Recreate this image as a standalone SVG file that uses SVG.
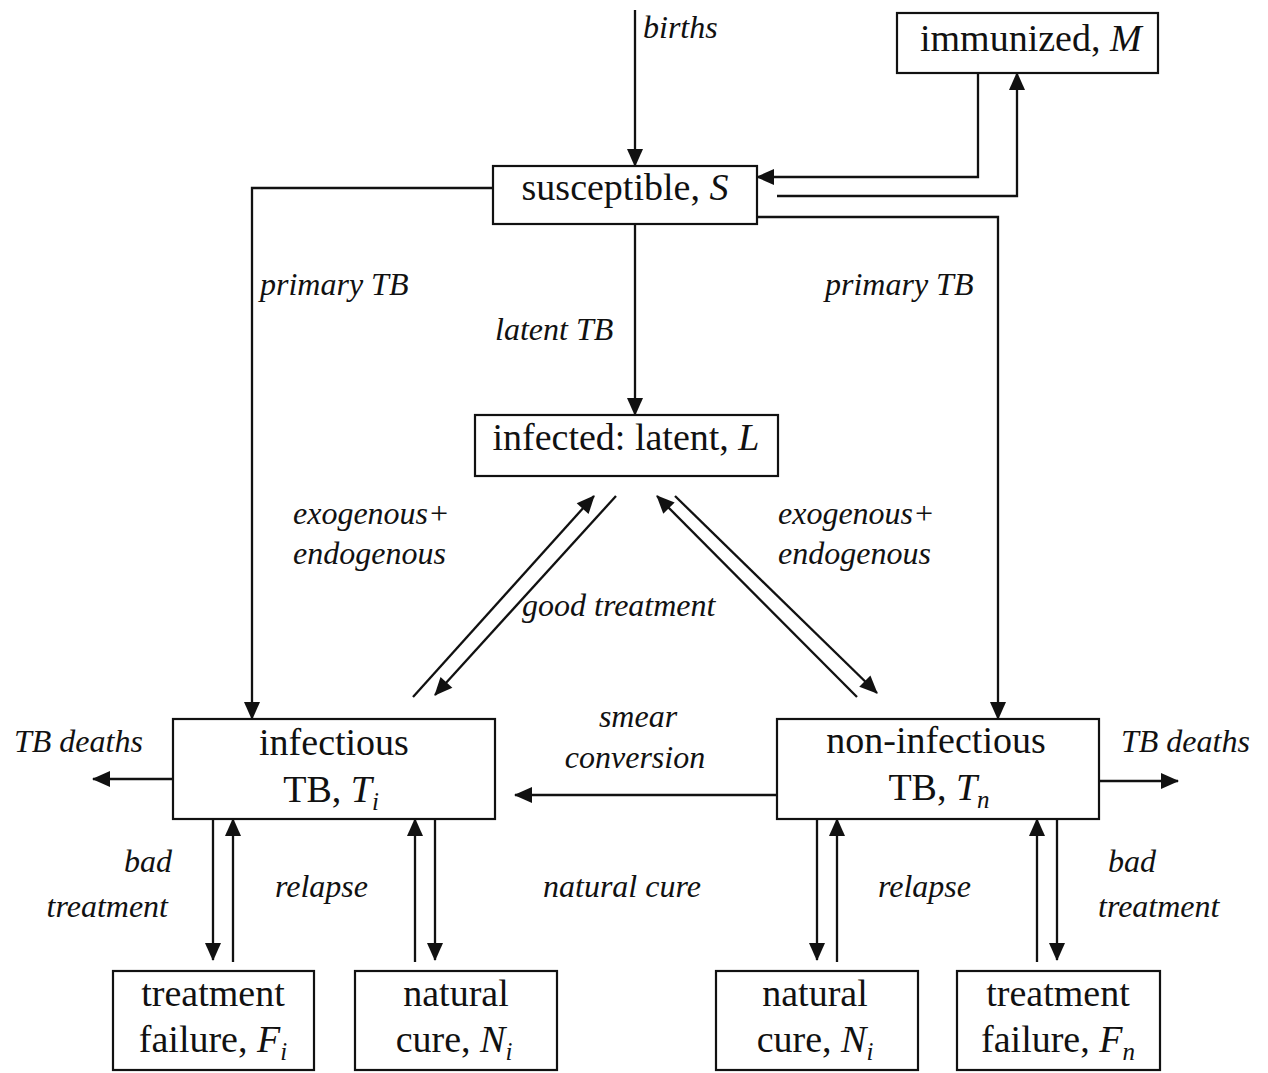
<svg xmlns="http://www.w3.org/2000/svg" width="1268" height="1073" viewBox="0 0 1268 1073">
<style>
.box{fill:#fff;stroke:#111;stroke-width:2.2}
.bt{font-family:"Liberation Serif","Times New Roman",serif;font-size:38px;fill:#111}
.lb{font-family:"Liberation Serif","Times New Roman",serif;font-size:32px;font-style:italic;fill:#111}
.it{font-style:italic}
.sub{font-size:25px;font-style:italic}
.c{fill:none;stroke:#111;stroke-width:2.3}
.a{marker-end:url(#ah)}
</style>
<defs>
<marker id="ah" markerUnits="userSpaceOnUse" markerWidth="18" markerHeight="16" refX="17" refY="8" orient="auto" overflow="visible">
<path d="M0,0 L18,8 L0,16 z" fill="#111"/>
</marker>
</defs>
<rect width="1268" height="1073" fill="#fff"/>
<g id="connectors">
<path class="c a" d="M635,10 V166"/>
<path class="c a" d="M635,224 V415"/>
<path class="c a" d="M978,73 V177 H757"/>
<path class="c a" d="M777,196 H1017 V73"/>
<path class="c a" d="M757,217 H998 V719"/>
<path class="c a" d="M493,188 H252 V719"/>
<path class="c a" d="M413,697 L594,496"/>
<path class="c a" d="M616,496 L435,695"/>
<path class="c a" d="M675,496 L877,693"/>
<path class="c a" d="M857,697 L657,496"/>
<path class="c a" d="M777,795 H515"/>
<path class="c a" d="M173,779 H93"/>
<path class="c a" d="M1099,781 H1178"/>
<path class="c a" d="M213,819 V960"/>
<path class="c a" d="M233,962 V819"/>
<path class="c a" d="M415,962 V819"/>
<path class="c a" d="M435,819 V960"/>
<path class="c a" d="M817,819 V960"/>
<path class="c a" d="M837,962 V819"/>
<path class="c a" d="M1037,962 V819"/>
<path class="c a" d="M1057,819 V960"/>
</g>
<g id="labels">
<text class="lb" x="643" y="38">births</text>
<text class="lb" x="260" y="295">primary TB</text>
<text class="lb" x="825" y="295">primary TB</text>
<text class="lb" x="495" y="340">latent TB</text>
<text class="lb" x="293" y="524">exogenous+</text>
<text class="lb" x="293" y="564">endogenous</text>
<text class="lb" x="778" y="524">exogenous+</text>
<text class="lb" x="778" y="564">endogenous</text>
<text class="lb" x="522" y="616">good treatment</text>
<text class="lb" x="638" y="727" text-anchor="middle">smear</text>
<text class="lb" x="635" y="768" text-anchor="middle">conversion</text>
<text class="lb" x="14" y="752">TB deaths</text>
<text class="lb" x="1121" y="752">TB deaths</text>
<text class="lb" x="172" y="872" text-anchor="end">bad</text>
<text class="lb" x="168" y="917" text-anchor="end">treatment</text>
<text class="lb" x="275" y="897">relapse</text>
<text class="lb" x="543" y="897">natural cure</text>
<text class="lb" x="878" y="897">relapse</text>
<text class="lb" x="1108" y="872">bad</text>
<text class="lb" x="1098" y="917">treatment</text>
</g>
<g id="node-M">
<rect class="box" x="897" y="13" width="261" height="60"/>
<text class="bt" x="920" y="51">immunized, <tspan class="it">M</tspan></text>
</g>
<g id="node-S">
<rect class="box" x="493" y="166" width="264" height="58"/>
<text class="bt" x="625" y="200" text-anchor="middle">susceptible, <tspan class="it">S</tspan></text>
</g>
<g id="node-L">
<rect class="box" x="475" y="415" width="303" height="61"/>
<text class="bt" x="626" y="450" text-anchor="middle">infected: latent, <tspan class="it">L</tspan></text>
</g>
<g id="node-Ti">
<rect class="box" x="173" y="719" width="322" height="100"/>
<text class="bt" x="334" y="755" text-anchor="middle">infectious</text>
<text class="bt" x="331" y="802" text-anchor="middle">TB, <tspan class="it">T</tspan><tspan class="sub" dy="8">i</tspan></text>
</g>
<g id="node-Tn">
<rect class="box" x="777" y="719" width="322" height="100"/>
<text class="bt" x="936" y="753" text-anchor="middle">non-infectious</text>
<text class="bt" x="939" y="800" text-anchor="middle">TB, <tspan class="it">T</tspan><tspan class="sub" dy="8">n</tspan></text>
</g>
<g id="node-Fi">
<rect class="box" x="113" y="971" width="201" height="99"/>
<text class="bt" x="213" y="1006" text-anchor="middle">treatment</text>
<text class="bt" x="213" y="1052" text-anchor="middle">failure, <tspan class="it">F</tspan><tspan class="sub" dy="8">i</tspan></text>
</g>
<g id="node-Ni-left">
<rect class="box" x="355" y="971" width="202" height="99"/>
<text class="bt" x="456" y="1006" text-anchor="middle">natural</text>
<text class="bt" x="454" y="1052" text-anchor="middle">cure, <tspan class="it">N</tspan><tspan class="sub" dy="8">i</tspan></text>
</g>
<g id="node-Ni-right">
<rect class="box" x="716" y="971" width="202" height="99"/>
<text class="bt" x="815" y="1006" text-anchor="middle">natural</text>
<text class="bt" x="815" y="1052" text-anchor="middle">cure, <tspan class="it">N</tspan><tspan class="sub" dy="8">i</tspan></text>
</g>
<g id="node-Fn">
<rect class="box" x="957" y="971" width="203" height="99"/>
<text class="bt" x="1058" y="1006" text-anchor="middle">treatment</text>
<text class="bt" x="1058" y="1052" text-anchor="middle">failure, <tspan class="it">F</tspan><tspan class="sub" dy="8">n</tspan></text>
</g>
</svg>
